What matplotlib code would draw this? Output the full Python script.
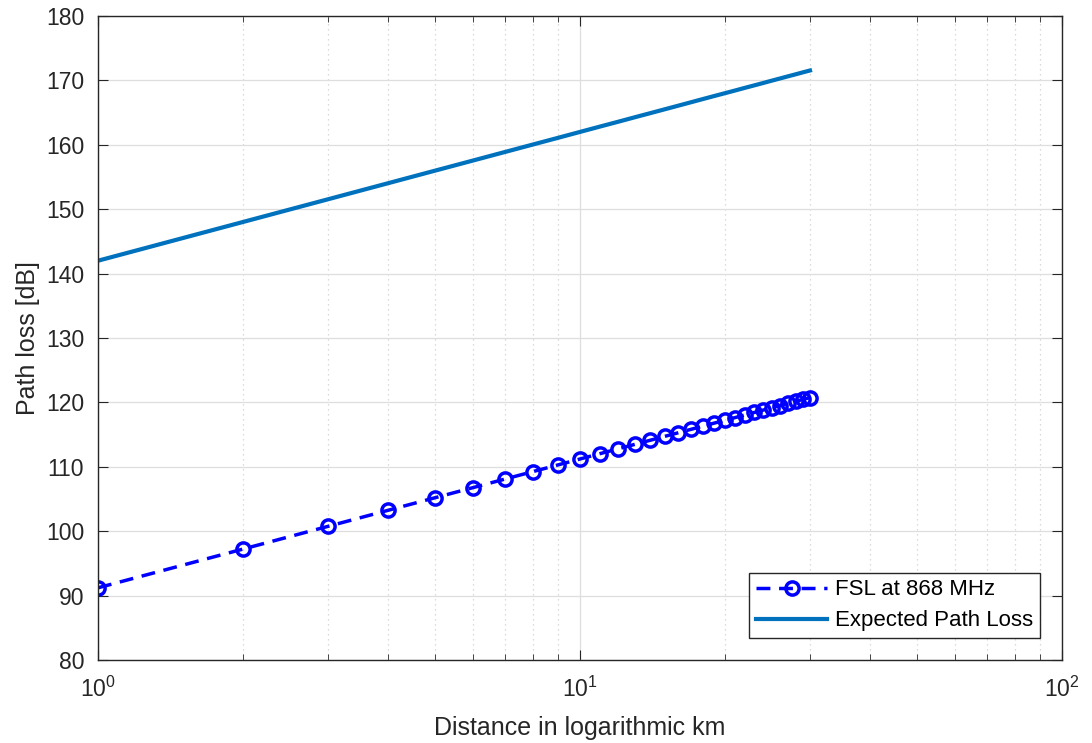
import matplotlib
matplotlib.use("Agg")
import matplotlib.pyplot as plt
from matplotlib.ticker import LogLocator, NullFormatter, MultipleLocator

distance_km = list(range(1, 31))
fsl_868 = [91.21, 97.23, 100.75, 103.25, 105.19, 106.77, 108.11, 109.27, 110.29, 111.21,
           112.04, 112.79, 113.49, 114.13, 114.73, 115.29, 115.82, 116.32, 116.79, 117.23,
           117.65, 118.06, 118.44, 118.81, 119.17, 119.51, 119.84, 120.15, 120.46, 120.75]
expected_pl = [142.00, 148.02, 151.54, 154.04, 155.98, 157.56, 158.90, 160.06, 161.08, 162.00,
               162.83, 163.58, 164.28, 164.92, 165.52, 166.08, 166.61, 167.11, 167.58, 168.02,
               168.44, 168.85, 169.23, 169.60, 169.96, 170.30, 170.63, 170.94, 171.25, 171.54]

plt.rcParams['font.family'] = ['Liberation Sans', 'DejaVu Sans']

fig = plt.figure(figsize=(10.92, 7.43), dpi=100)
ax = fig.add_axes([98/1092, 1-660/743, (1062-98)/1092, (660-16)/743])

ax.plot(distance_km, fsl_868, linestyle=(0, (4, 2.5)), color='#0000ff', linewidth=2.5,
        marker='o', markersize=9.5, markerfacecolor='none', markeredgewidth=2.5,
        label='FSL at 868 MHz')
ax.plot(distance_km, expected_pl, '-', color='#0072bd', linewidth=3,
        label='Expected Path Loss')

ax.set_xscale('log')
ax.set_xlim(1, 100)
ax.set_ylim(80, 180)
ax.yaxis.set_major_locator(MultipleLocator(10))
ax.xaxis.set_major_locator(LogLocator(base=10, numticks=5))
ax.xaxis.set_minor_locator(LogLocator(base=10, subs=range(2, 10), numticks=20))
ax.xaxis.set_minor_formatter(NullFormatter())

ax.grid(True, which='major', color='#dedede', linewidth=0.9, linestyle='-')
ax.grid(True, which='minor', axis='x', color='#d0d0d0', linewidth=0.9, linestyle=(0, (1, 3)))
ax.set_axisbelow(True)

for s in ax.spines.values():
    s.set_color('#262626')
    s.set_linewidth(1.0)
ax.tick_params(which='both', direction='in', top=True, right=True, colors='#262626',
               labelsize=16.5, labelcolor='#262626')
ax.tick_params(which='major', length=7)
ax.tick_params(which='minor', length=4)
ax.tick_params(axis='x', pad=12)
ax.tick_params(axis='y', pad=10)

ax.set_xlabel('Distance in logarithmic km', fontsize=18, color='#262626', labelpad=10)
ax.set_ylabel('Path loss [dB]', fontsize=18, color='#262626', labelpad=4)

leg = ax.legend(loc='lower right', bbox_to_anchor=(0.977, 0.034), fontsize=16,
                fancybox=False, edgecolor='#262626', framealpha=1, borderaxespad=0,
                handlelength=3.2, borderpad=0.3, labelspacing=0.45, handletextpad=0.35)
leg.get_frame().set_linewidth(1.0)

fig.savefig('out.png', dpi=100)
